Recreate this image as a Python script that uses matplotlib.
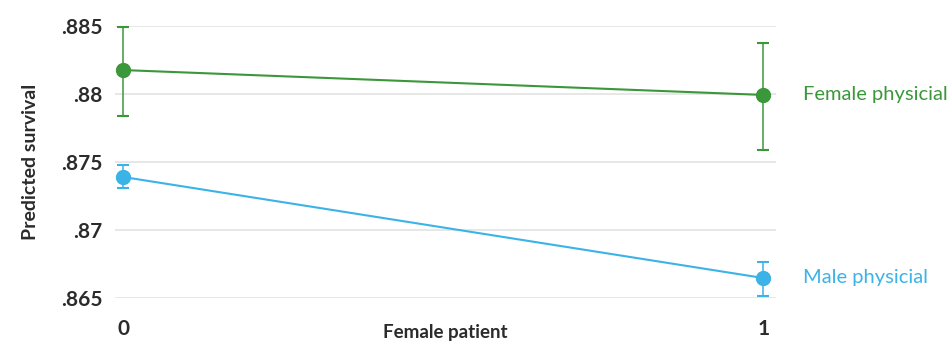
import matplotlib.pyplot as plt
from matplotlib.ticker import FuncFormatter

# data
x_vals = [0, 1]
female_doc = [0.88176, 0.87993]
female_lo = [0.87838, 0.87588]
female_hi = [0.88493, 0.88375]
male_doc = [0.87390, 0.86647]
male_lo = [0.87309, 0.86515]
male_hi = [0.87478, 0.86765]
y_ticks = [0.865, 0.87, 0.875, 0.88, 0.885]

green = '#3a973a'
blue = '#3bb3e6'
dark = '#2b2b2b'

plt.rcParams['font.family'] = ['Lato', 'DejaVu Sans']

fig = plt.figure(figsize=(9.52, 3.42), dpi=100)
ax = fig.add_axes([0.1208, 0.1287, 0.6943, 0.7953])

def draw(vals, lo, hi, col, name):
    err = [[v - l for v, l in zip(vals, lo)], [h - v for v, h in zip(vals, hi)]]
    ax.errorbar(x_vals, vals, yerr=err, color=col, lw=1.5, elinewidth=1.1,
                capsize=4.5, capthick=1.5, marker='o', ms=10, zorder=3, clip_on=False)
    ax.text(1.062, vals[-1], name, color=col, fontsize=14.5, va='center', ha='left')

draw(female_doc, female_lo, female_hi, green, 'Female physicial')
draw(male_doc, male_lo, male_hi, blue, 'Male physicial')

ax.set_xlim(-0.0125, 1.02)
ax.set_ylim(0.865, 0.885)
ax.set_yticks(y_ticks)
ax.yaxis.set_major_formatter(FuncFormatter(lambda v, p: ('%.3f' % v).rstrip('0').lstrip('0')))
ax.set_xticks(x_vals)
ax.grid(axis='y', color='#e3e3e3', lw=1.2)
ax.set_axisbelow(True)
for s in ax.spines.values():
    s.set_visible(False)
ax.tick_params(length=0, labelsize=15, colors=dark)
ax.tick_params(axis='y', pad=9)
ax.tick_params(axis='x', pad=15)
for lab in ax.get_xticklabels() + ax.get_yticklabels():
    lab.set_fontweight('bold')
ax.set_ylabel('Predicted survival', fontsize=14, fontweight='bold', color=dark, labelpad=16)
ax.set_xlabel('Female patient', fontsize=13.5, fontweight='bold', color=dark, labelpad=-11)

fig.savefig('out.png', dpi=100)
